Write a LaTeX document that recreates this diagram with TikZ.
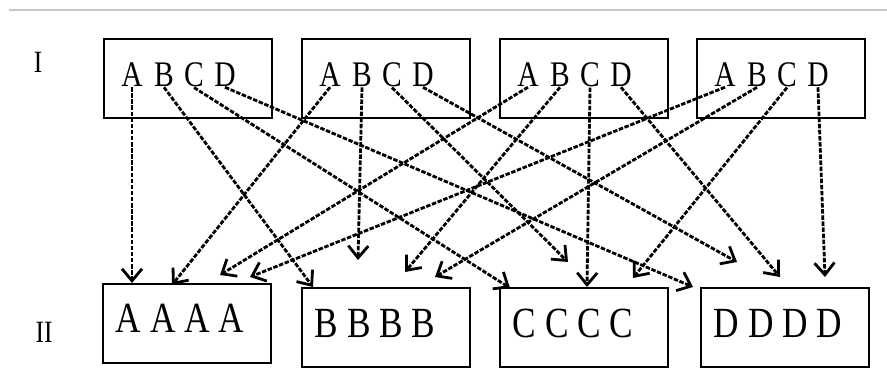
\documentclass[tikz,border=0pt]{standalone}
\usepackage{fontspec}
\setmainfont{Liberation Serif}[FakeStretch=0.82]
\usetikzlibrary{arrows.meta}
\tikzset{
  box/.style   ={draw, line width=2pt, minimum width=168pt, minimum height=79pt, inner sep=0pt},
  glyph/.style ={anchor=base, inner sep=0pt, font=\fontsize{36}{38}\selectfont},
  big/.style   ={anchor=base, inner sep=0pt, font=\fontsize{43}{45}\selectfont},
  lvl/.style   ={anchor=base, inner sep=0pt, font=\fontsize{31}{33}\selectfont},
  arr/.style   ={-{Straight Barb[length=12pt,width=20pt]}, line width=2.8pt, dash pattern=on 4.5pt off 1.6pt},
}
\begin{document}
\begin{tikzpicture}[x=1pt,y=-1pt]
  \useasboundingbox (0,0) rectangle (887,387);
  \draw[black!22, line width=1.5pt] (9,10) -- (887,10);

  % row labels
  \node[lvl] (one) at (38,73)  {I};
  \node[lvl] (two) at (44,343) {II};

  % top row: four boxes, each with A B C D
  \foreach \i/\x in {1/188,2/386,3/584,4/781}{
    \node[box]   (top\i) at (\x,78.5) {};
    \node[glyph] (a\i) at (\x-56,87) {A};
    \node[glyph] (b\i) at (\x-24,87) {B};
    \node[glyph] (c\i) at (\x+6,87)  {C};
    \node[glyph] (d\i) at (\x+37,87) {D};
  }

  % bottom row
  \node[box] (boxA) at (186.5,323.5) {};
  \node[box] (boxB) at (386,328)     {};
  \node[box] (boxC) at (584,328)     {};
  \node[box] (boxD) at (784.5,328)   {};
  \node[big] (txtA) at (180,333) {A A A A};
  \node[big] (txtB) at (375,338) {B B B B};
  \node[big] (txtC) at (573,338) {C C C C};
  \node[big] (txtD) at (778,338) {D D D D};

  % every letter goes down to its own box
  \foreach \s/\x/\y in {a1/132/283, b1/313/287, c1/510/288, d1/693/287,
                        a2/172/285, b2/358/260, c2/568/262, d2/737/262,
                        a3/220/275, b3/405/272, c3/587/287, d3/780/277,
                        a4/250/277, b4/435/277, c4/633/278, d4/825/277}{
    \coordinate (e\s) at (\x,\y);
    \draw[arr] (\s.south) -- (e\s);
  }
\end{tikzpicture}
\end{document}
